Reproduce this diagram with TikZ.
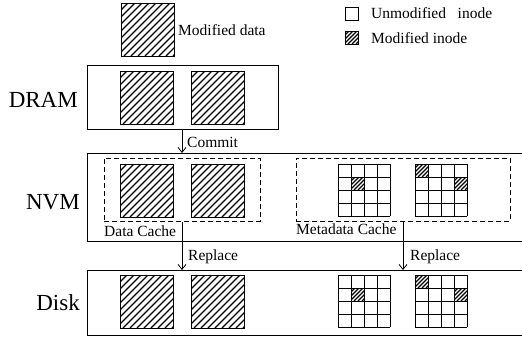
\documentclass[tikz,border=0pt]{standalone}
\usepackage{fontspec}
\setmainfont{Liberation Serif}
\usetikzlibrary{arrows.meta}
\newcommand\hatchsq[4]{%
  \begin{scope}
    \clip (#1,#2) rectangle ++(#3,#3);
    \foreach \k in {-#3,-\numexpr#3-#4\relax,...,#3}
      \draw[hatchline] (#1+\k,#2+#3) -- ++(#3,-#3);
  \end{scope}
  \draw[sq] (#1,#2) rectangle ++(#3,#3);
}
\newcommand\inodegrid[2]{%
  \foreach \i in {0,13,26,39,52} {
    \draw[gridline] (#1+\i,#2) -- (#1+\i,#2+52);
    \draw[gridline] (#1,#2+\i) -- (#1+52,#2+\i);
  }
}
\begin{document}
\begin{tikzpicture}[x=1pt,y=-1pt,
  sq/.style={line width=0.9pt},
  hatchline/.style={line width=1.1pt},
  gridline/.style={line width=0.8pt},
  box/.style={draw,line width=0.9pt,inner sep=0,anchor=north west},
  cache/.style={draw,line width=0.8pt,dash pattern=on 5pt off 3pt,inner sep=0,anchor=north west},
  small/.style={font=\fontsize{15.5}{18}\selectfont,inner sep=0},
  big/.style={font=\fontsize{23}{26}\selectfont,inner sep=0,anchor=east},
  arr/.style={line width=0.8pt,-{Straight Barb[length=5pt,width=8pt]}}]
\useasboundingbox (0,0) rectangle (522,338);
\clip (0,0) rectangle (522,338);

% legend and top
\hatchsq{121}{3}{53}{7}
\node[small,anchor=west] (mdlabel) at (178,30) {Modified data};
\draw[sq] (345,7) rectangle ++(13,13);
\node[small,anchor=west] (leg1) at (371,13) {Unmodified\ \ \ inode};
\hatchsq{345}{31}{13}{4}
\node[small,anchor=west] (leg2) at (371,38) {Modified inode};

% DRAM
\node[box,minimum width=191,minimum height=64] (dram) at (87,65) {};
\node[big] (dramlabel) at (78,100) {DRAM};
\hatchsq{120}{71}{53}{7}
\hatchsq{191}{71}{53}{7}

% NVM
\node[box,minimum width=450,minimum height=88] (nvm) at (87,153) {};
\node[big] (nvmlabel) at (80,202) {NVM};
\node[cache,minimum width=156,minimum height=63] (dcache) at (104,158) {};
\node[cache,minimum width=214,minimum height=63] (mcache) at (296,158) {};
\node[small,anchor=west] (dclabel) at (104,231) {Data Cache};
\node[small,anchor=west] (mclabel) at (296,229) {Metadata Cache};
\hatchsq{120}{164}{53}{7}
\hatchsq{191}{164}{53}{7}
\hatchsq{351}{177}{13}{4}
\hatchsq{415}{164}{13}{4}
\hatchsq{454}{177}{13}{4}
\inodegrid{338}{164}
\inodegrid{415}{164}

% Disk
\node[box,minimum width=450,minimum height=65] (disk) at (87,270) {};
\node[big] (disklabel) at (80,303) {Disk};
\hatchsq{120}{275}{53}{7}
\hatchsq{191}{275}{53}{7}
\hatchsq{351}{288}{13}{4}
\hatchsq{415}{275}{13}{4}
\hatchsq{454}{288}{13}{4}
\inodegrid{338}{275}
\inodegrid{415}{275}

% connectors
\coordinate (ax) at (182,0);
\coordinate (bx) at (403,0);
\draw[arr] (dram.south -| ax) -- (nvm.north -| ax);
\node[small,anchor=west] (commit) at (187,142) {Commit};
\draw[arr] (dcache.south -| ax) -- (disk.north -| ax);
\node[small,anchor=west] (rep1) at (188,257) {Replace};
\draw[arr] (mcache.south -| bx) -- (disk.north -| bx);
\node[small,anchor=west] (rep2) at (410,257) {Replace};
\end{tikzpicture}
\end{document}
